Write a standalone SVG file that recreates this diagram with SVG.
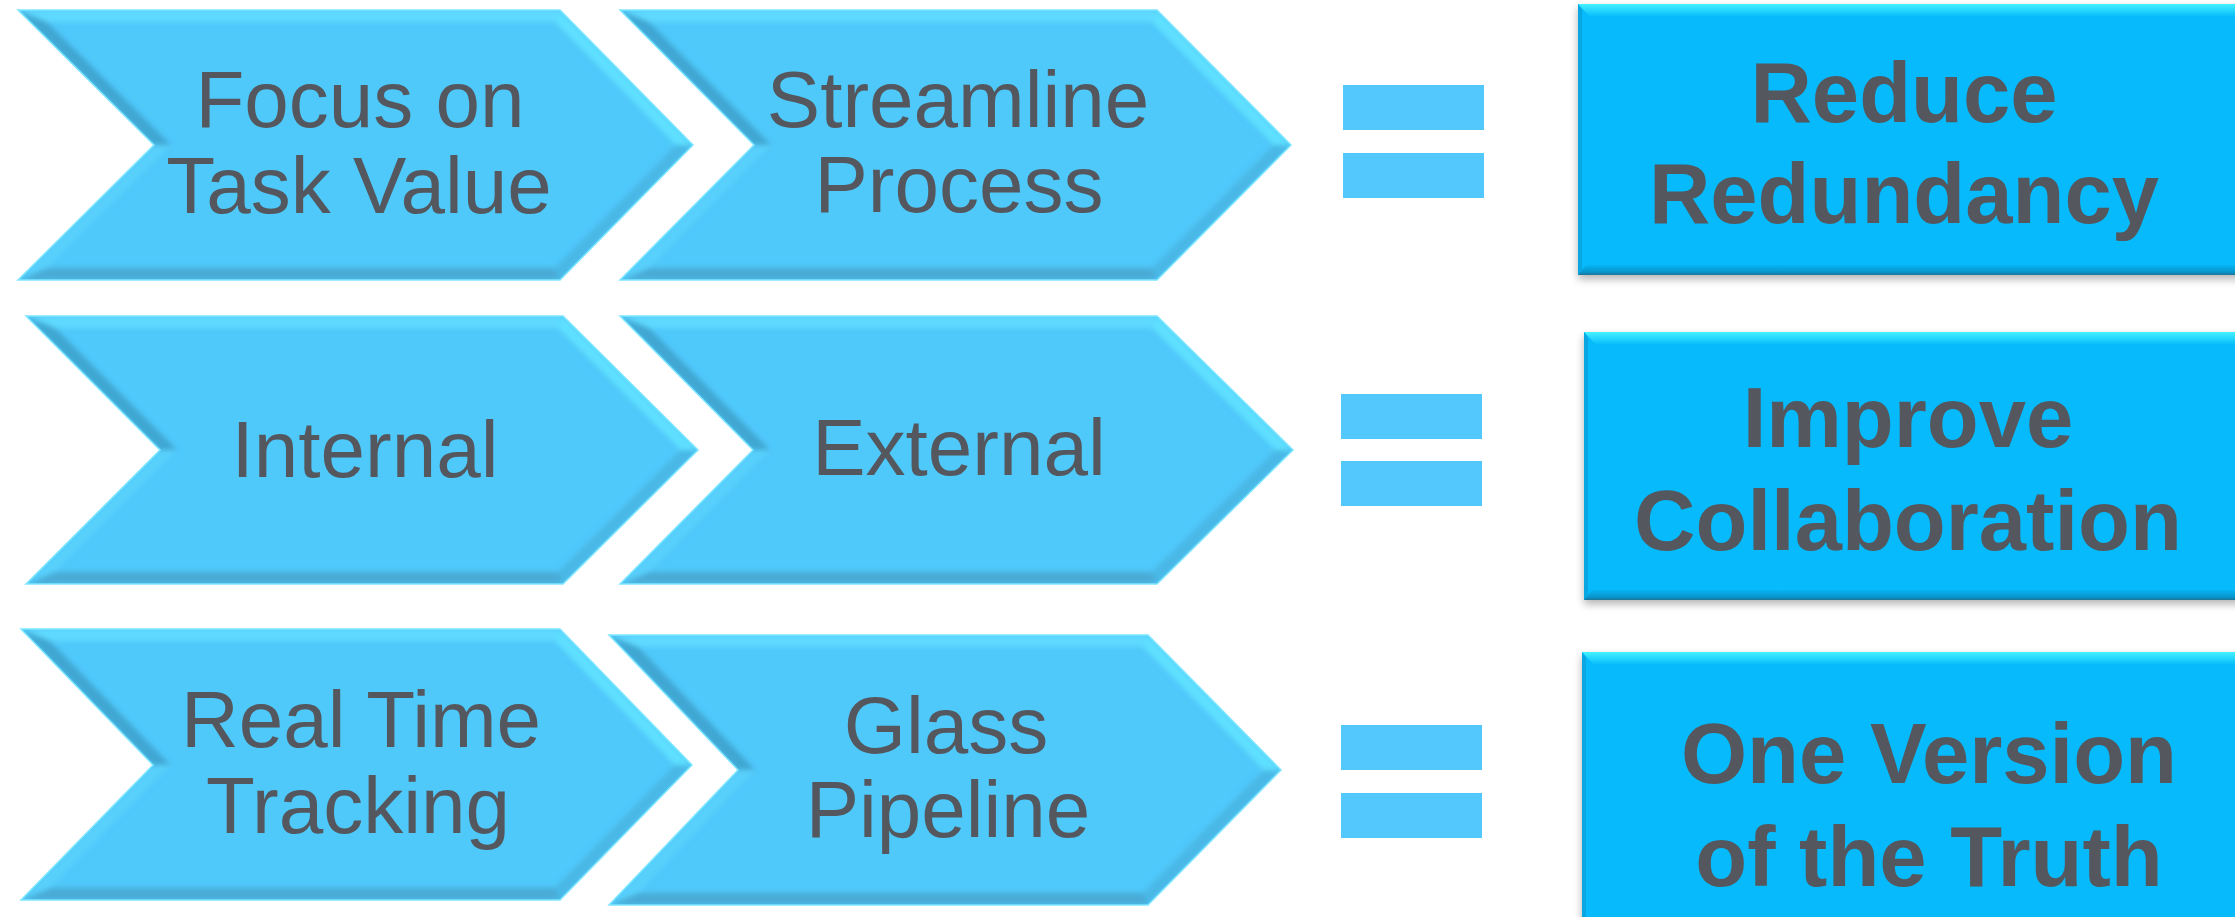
<svg xmlns="http://www.w3.org/2000/svg" width="2235" height="917" viewBox="0 0 2235 917">
<defs>
<style>
.chev{fill:#4FC8FA}
.edge{fill:none;stroke:#7FE6FF;stroke-width:1.5}
.ftop{fill:#5FD9FF}
.fur{fill:#5EE0FF}
.flr{fill:#4AB8E6}
.fbot{fill:#48ABD6}
.fll{fill:#58D0FC}
.ful{fill:#3FA6D2}
.lbl{font-family:"Liberation Sans",Arial,sans-serif;font-size:80px;fill:#54585E;text-anchor:middle}
.blbl{font-family:"Liberation Sans",Arial,sans-serif;font-size:85px;font-weight:bold;fill:#54585E;text-anchor:middle}
.bar{fill:#52C8FC}
.box{fill:#06BAFC}
.btop{fill:url(#gTop)}
.bbot{fill:url(#gBot)}
.bleft{fill:#0AA6E2}
</style>
<linearGradient id="gTop" x1="0" y1="0" x2="0" y2="1">
<stop offset="0" stop-color="#45F2FF"/>
<stop offset="1" stop-color="#06BAFC"/>
</linearGradient>
<linearGradient id="gBot" x1="0" y1="0" x2="0" y2="1">
<stop offset="0" stop-color="#06B4F4"/>
<stop offset="0.7" stop-color="#0896CC"/>
<stop offset="1" stop-color="#1D7498"/>
</linearGradient>
<filter id="soft" x="-5%" y="-5%" width="110%" height="110%">
<feGaussianBlur stdDeviation="2.5"/>
</filter>
<filter id="shadow" x="-5%" y="-10%" width="110%" height="130%">
<feGaussianBlur stdDeviation="4"/>
</filter>
<clipPath id="c11"><polygon points="18,10 560,10 693,145 560,280 18,280 154,145"/></clipPath>
<clipPath id="c12"><polygon points="620,10 1157,10 1291,145 1157,280 620,280 754,145"/></clipPath>
<clipPath id="c21"><polygon points="26,316 563,316 698,450 563,584 26,584 160,450"/></clipPath>
<clipPath id="c22"><polygon points="620,316 1157,316 1293,450 1157,584 620,584 753,450"/></clipPath>
<clipPath id="c31"><polygon points="21,629 560,629 692,765 560,900 21,900 153,765"/></clipPath>
<clipPath id="c32"><polygon points="609,635 1148,635 1281,770 1148,905 609,905 738,770"/></clipPath>
</defs>
<rect width="2235" height="917" fill="#FFFFFF"/>

<g id="connectors"></g>

<!-- Row 1 -->
<g id="chev-focus">
<polygon class="chev" points="18,10 560,10 693,145 560,280 18,280 154,145"/>
<g clip-path="url(#c11)"><g filter="url(#soft)">
<polygon class="ftop" points="18,10 560,10 555,22 47,22"/>
<polygon class="fur" points="560,10 693,145 676,145 555,22"/>
<polygon class="flr" points="693,145 560,280 555,268 676,145"/>
<polygon class="fbot" points="560,280 18,280 47,268 555,268"/>
<polygon class="fll" points="18,280 154,145 171,145 47,268"/>
<polygon class="ful" points="154,145 18,10 47,22 171,145"/>
</g></g>
<polygon class="edge" points="18,10 560,10 693,145 560,280 18,280 154,145"/>
<text class="lbl" x="360" y="127">Focus on</text>
<text class="lbl" x="359" y="213">Task Value</text>
</g>

<g id="chev-streamline">
<polygon class="chev" points="620,10 1157,10 1291,145 1157,280 620,280 754,145"/>
<g clip-path="url(#c12)"><g filter="url(#soft)">
<polygon class="ftop" points="620,10 1157,10 1152,22 649,22"/>
<polygon class="fur" points="1157,10 1291,145 1274,145 1152,22"/>
<polygon class="flr" points="1291,145 1157,280 1152,268 1274,145"/>
<polygon class="fbot" points="1157,280 620,280 649,268 1152,268"/>
<polygon class="fll" points="620,280 754,145 771,145 649,268"/>
<polygon class="ful" points="754,145 620,10 649,22 771,145"/>
</g></g>
<polygon class="edge" points="620,10 1157,10 1291,145 1157,280 620,280 754,145"/>
<text class="lbl" x="958" y="127">Streamline</text>
<text class="lbl" x="959" y="212">Process</text>
</g>

<g id="eq-1">
<rect class="bar" x="1343" y="85" width="141" height="45"/>
<rect class="bar" x="1343" y="153" width="141" height="45"/>
</g>

<g id="box-reduce">
<rect x="1578" y="8" width="680" height="271" fill="#000" opacity="0.3" filter="url(#shadow)"/>
<rect class="box" x="1578" y="4" width="680" height="271"/>
<polygon class="btop" points="1578,4 2258,4 2258,17 1590,17"/>
<polygon class="bleft" points="1578,4 1582,10 1582,270 1578,275"/>
<polygon class="bbot" points="1578,275 2258,275 2258,265 1586,265"/>
<text class="blbl" x="1904" y="122">Reduce</text>
<text class="blbl" x="1904" y="223">Redundancy</text>
</g>

<!-- Row 2 -->
<g id="chev-internal">
<polygon class="chev" points="26,316 563,316 698,450 563,584 26,584 160,450"/>
<g clip-path="url(#c21)"><g filter="url(#soft)">
<polygon class="ftop" points="26,316 563,316 558,328 55,328"/>
<polygon class="fur" points="563,316 698,450 681,450 558,328"/>
<polygon class="flr" points="698,450 563,584 558,572 681,450"/>
<polygon class="fbot" points="563,584 26,584 55,572 558,572"/>
<polygon class="fll" points="26,584 160,450 177,450 55,572"/>
<polygon class="ful" points="160,450 26,316 55,328 177,450"/>
</g></g>
<polygon class="edge" points="26,316 563,316 698,450 563,584 26,584 160,450"/>
<text class="lbl" x="365" y="477">Internal</text>
</g>

<g id="chev-external">
<polygon class="chev" points="620,316 1157,316 1293,450 1157,584 620,584 753,450"/>
<g clip-path="url(#c22)"><g filter="url(#soft)">
<polygon class="ftop" points="620,316 1157,316 1152,328 649,328"/>
<polygon class="fur" points="1157,316 1293,450 1276,450 1152,328"/>
<polygon class="flr" points="1293,450 1157,584 1152,572 1276,450"/>
<polygon class="fbot" points="1157,584 620,584 649,572 1152,572"/>
<polygon class="fll" points="620,584 753,450 770,450 649,572"/>
<polygon class="ful" points="753,450 620,316 649,328 770,450"/>
</g></g>
<polygon class="edge" points="620,316 1157,316 1293,450 1157,584 620,584 753,450"/>
<text class="lbl" x="959" y="475">External</text>
</g>

<g id="eq-2">
<rect class="bar" x="1341" y="394" width="141" height="45"/>
<rect class="bar" x="1341" y="461" width="141" height="45"/>
</g>

<g id="box-improve">
<rect x="1584" y="336" width="680" height="268" fill="#000" opacity="0.3" filter="url(#shadow)"/>
<rect class="box" x="1584" y="332" width="680" height="268"/>
<polygon class="btop" points="1584,332 2264,332 2264,345 1596,345"/>
<polygon class="bleft" points="1584,332 1588,338 1588,595 1584,600"/>
<polygon class="bbot" points="1584,600 2264,600 2264,590 1592,590"/>
<text class="blbl" x="1908" y="447">Improve</text>
<text class="blbl" x="1908" y="550">Collaboration</text>
</g>

<!-- Row 3 -->
<g id="chev-realtime">
<polygon class="chev" points="21,629 560,629 692,765 560,900 21,900 153,765"/>
<g clip-path="url(#c31)"><g filter="url(#soft)">
<polygon class="ftop" points="21,629 560,629 555,641 50,641"/>
<polygon class="fur" points="560,629 692,765 675,765 555,641"/>
<polygon class="flr" points="692,765 560,900 555,888 675,765"/>
<polygon class="fbot" points="560,900 21,900 50,888 555,888"/>
<polygon class="fll" points="21,900 153,765 170,765 50,888"/>
<polygon class="ful" points="153,765 21,629 50,641 170,765"/>
</g></g>
<polygon class="edge" points="21,629 560,629 692,765 560,900 21,900 153,765"/>
<text class="lbl" x="361" y="747">Real Time</text>
<text class="lbl" x="358" y="833">Tracking</text>
</g>

<g id="chev-glass">
<polygon class="chev" points="609,635 1148,635 1281,770 1148,905 609,905 738,770"/>
<g clip-path="url(#c32)"><g filter="url(#soft)">
<polygon class="ftop" points="609,635 1148,635 1143,647 638,647"/>
<polygon class="fur" points="1148,635 1281,770 1264,770 1143,647"/>
<polygon class="flr" points="1281,770 1148,905 1143,893 1264,770"/>
<polygon class="fbot" points="1148,905 609,905 638,893 1143,893"/>
<polygon class="fll" points="609,905 738,770 755,770 638,893"/>
<polygon class="ful" points="738,770 609,635 638,647 755,770"/>
</g></g>
<polygon class="edge" points="609,635 1148,635 1281,770 1148,905 609,905 738,770"/>
<text class="lbl" x="946" y="753">Glass</text>
<text class="lbl" x="948" y="837">Pipeline</text>
</g>

<g id="eq-3">
<rect class="bar" x="1341" y="725" width="141" height="45"/>
<rect class="bar" x="1341" y="793" width="141" height="45"/>
</g>

<g id="box-truth">
<rect x="1582" y="656" width="680" height="280" fill="#000" opacity="0.3" filter="url(#shadow)"/>
<rect class="box" x="1582" y="652" width="680" height="280"/>
<polygon class="btop" points="1582,652 2262,652 2262,665 1594,665"/>
<polygon class="bleft" points="1582,652 1586,658 1586,932 1582,932"/>
<text class="blbl" x="1929" y="783">One Version</text>
<text class="blbl" x="1929" y="886">of the Truth</text>
</g>
</svg>
